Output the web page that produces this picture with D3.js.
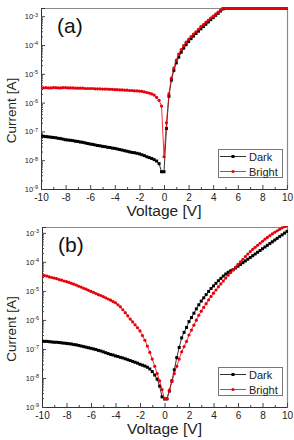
<!DOCTYPE html>
<html>
<head>
<meta charset="utf-8">
<script src="https://cdn.jsdelivr.net/npm/d3@7"></script>
<style>
body { margin: 0; background: #fff; }
svg { display: block; font-family: Arial, "Liberation Sans", sans-serif; }
</style>
</head>
<body>
<svg width="294" height="440"></svg>
<script>
// voltage sweep, -10 V .. 10 V
const voltage = [
  -10, -9.8, -9.6, -9.4, -9.2, -9, -8.8, -8.6, -8.4, -8.2,
  -8, -7.8, -7.6, -7.4, -7.2, -7, -6.8, -6.6, -6.4, -6.2,
  -6, -5.8, -5.6, -5.4, -5.2, -5, -4.8, -4.6, -4.4, -4.2,
  -4, -3.8, -3.6, -3.4, -3.2, -3, -2.8, -2.6, -2.4, -2.2,
  -2, -1.8, -1.6, -1.4, -1.2, -1, -0.8, -0.6, -0.4, -0.2,
  0, 0.2, 0.4, 0.6, 0.8, 1, 1.2, 1.4, 1.6, 1.8,
  2, 2.2, 2.4, 2.6, 2.8, 3, 3.2, 3.4, 3.6, 3.8,
  4, 4.2, 4.4, 4.6, 4.8, 5, 5.2, 5.4, 5.6, 5.8,
  6, 6.2, 6.4, 6.6, 6.8, 7, 7.2, 7.4, 7.6, 7.8,
  8, 8.2, 8.4, 8.6, 8.8, 9, 9.2, 9.4, 9.6, 9.8,
  10
]

// log10(current [A])
const darkA = [
  -7.16, -7.17, -7.18, -7.19, -7.20, -7.21, -7.22, -7.24, -7.25, -7.27,
  -7.29, -7.30, -7.31, -7.32, -7.34, -7.35, -7.37, -7.38, -7.40, -7.42,
  -7.44, -7.45, -7.47, -7.49, -7.50, -7.52, -7.53, -7.55, -7.56, -7.58,
  -7.59, -7.61, -7.63, -7.65, -7.67, -7.69, -7.71, -7.73, -7.74, -7.76,
  -7.78, -7.81, -7.84, -7.88, -7.91, -7.94, -7.98, -8.03, -8.12, -8.40,
  -8.40, -6.90, -5.78, -5.22, -4.88, -4.62, -4.42, -4.25, -4.11, -3.99,
  -3.88, -3.78, -3.69, -3.60, -3.52, -3.44, -3.36, -3.28, -3.20, -3.12,
  -3.05, -2.97, -2.90, -2.82, -2.75, -2.72, -2.72, -2.72, -2.72, -2.72,
  -2.72, -2.72, -2.72, -2.72, -2.72, -2.72, -2.72, -2.72, -2.72, -2.72,
  -2.72, -2.72, -2.72, -2.72, -2.72, -2.72, -2.72, -2.72, -2.72, -2.72,
  -2.72
]
const brightA = [
  -5.49, -5.49, -5.48, -5.49, -5.49, -5.48, -5.48, -5.49, -5.49, -5.48,
  -5.48, -5.49, -5.49, -5.49, -5.50, -5.50, -5.50, -5.50, -5.51, -5.51,
  -5.51, -5.51, -5.52, -5.52, -5.52, -5.53, -5.53, -5.53, -5.54, -5.54,
  -5.55, -5.55, -5.56, -5.56, -5.57, -5.57, -5.58, -5.58, -5.59, -5.59,
  -5.60, -5.61, -5.63, -5.65, -5.67, -5.70, -5.74, -5.82, -5.92, -6.12,
  -7.88, -6.70, -5.70, -5.15, -4.80, -4.52, -4.32, -4.16, -4.02, -3.90,
  -3.80, -3.71, -3.62, -3.54, -3.46, -3.36, -3.29, -3.21, -3.14, -3.07,
  -3.00, -2.93, -2.86, -2.79, -2.73, -2.72, -2.72, -2.72, -2.72, -2.72,
  -2.72, -2.72, -2.72, -2.72, -2.72, -2.72, -2.72, -2.72, -2.72, -2.72,
  -2.72, -2.72, -2.72, -2.72, -2.72, -2.72, -2.72, -2.72, -2.72, -2.72,
  -2.72
]
const darkB = [
  -6.73, -6.74, -6.74, -6.75, -6.76, -6.77, -6.77, -6.78, -6.79, -6.80,
  -6.81, -6.82, -6.83, -6.85, -6.86, -6.88, -6.90, -6.92, -6.94, -6.96,
  -6.98, -7.00, -7.02, -7.05, -7.07, -7.10, -7.13, -7.16, -7.19, -7.21,
  -7.24, -7.26, -7.29, -7.31, -7.34, -7.37, -7.40, -7.43, -7.46, -7.49,
  -7.53, -7.56, -7.59, -7.63, -7.69, -7.78, -7.90, -8.04, -8.28, -8.65,
  -8.72, -8.72, -8.45, -8.10, -7.72, -7.30, -6.95, -6.62, -6.43, -6.26,
  -6.06, -5.92, -5.77, -5.62, -5.48, -5.35, -5.24, -5.13, -5.02, -4.92,
  -4.83, -4.74, -4.65, -4.57, -4.49, -4.42, -4.36, -4.31, -4.27, -4.21,
  -4.15, -4.09, -4.03, -3.97, -3.91, -3.85, -3.79, -3.73, -3.67, -3.61,
  -3.55, -3.49, -3.43, -3.37, -3.31, -3.25, -3.19, -3.13, -3.07, -3.01,
  -2.95
]
const brightB = [
  -4.45, -4.47, -4.49, -4.52, -4.54, -4.56, -4.58, -4.61, -4.63, -4.66,
  -4.68, -4.71, -4.74, -4.77, -4.80, -4.84, -4.87, -4.91, -4.94, -4.98,
  -5.02, -5.05, -5.09, -5.13, -5.16, -5.20, -5.24, -5.28, -5.32, -5.37,
  -5.41, -5.48, -5.55, -5.65, -5.75, -5.86, -5.97, -6.07, -6.17, -6.27,
  -6.38, -6.54, -6.70, -6.90, -7.12, -7.35, -7.60, -7.85, -8.10, -8.40,
  -8.72, -8.72, -8.42, -8.12, -7.85, -7.60, -7.35, -7.10, -6.92, -6.74,
  -6.52, -6.35, -6.18, -6.01, -5.84, -5.70, -5.57, -5.44, -5.31, -5.19,
  -5.08, -4.97, -4.86, -4.76, -4.66, -4.56, -4.46, -4.37, -4.28, -4.18,
  -4.09, -4.00, -3.91, -3.82, -3.73, -3.65, -3.57, -3.50, -3.43, -3.36,
  -3.29, -3.22, -3.16, -3.10, -3.04, -2.98, -2.93, -2.88, -2.83, -2.79,
  -2.75
]

const seriesNames = ['Dark', 'Bright']
const seriesColors = ['#000', '#e8000b']
const xTicks = [-10, -8, -6, -4, -2, 0, 2, 4, 6, 8, 10]
const xMinor = [-9, -7, -5, -3, -1, 1, 3, 5, 7, 9]
const decades = [-9, -8, -7, -6, -5, -4, -3]

let svg = d3.select('svg')

function panel(cfg) {
    let x = d3.scaleLinear().domain([-10, 10]).range([cfg.left, cfg.right])
    let y = d3.scaleLog().domain([1e-9, Math.pow(10, cfg.yTop)]).range([cfg.bottom, cfg.top])

    let g = svg.append('g')

    // top / right frame lines
    g.append('path')
        .attr('d', `M${cfg.left},${cfg.top + 0.5}H${cfg.right + 0.5}V${cfg.bottom}`)
        .attr('fill', 'none').attr('stroke', '#8a8a8a').attr('stroke-width', 1.2)

    // x axis, ticks pointing in
    let gx = g.append('g').attr('transform', `translate(0,${cfg.bottom})`)
        .call(d3.axisBottom(x).tickValues(xTicks).tickSize(-4).tickPadding(5).tickFormat(d => String(d)))
    g.append('g').attr('transform', `translate(0,${cfg.bottom})`)
        .call(d3.axisBottom(x).tickValues(xMinor).tickSize(-2).tickFormat(''))
        .select('.domain').remove()
    gx.selectAll('text').attr('font-size', '10px').attr('fill', '#222')

    // y axis with decades and minor ticks
    let minor = []
    decades.forEach(e => { if (e < -3) for (let k = 2; k < 10; k++) minor.push(k * Math.pow(10, e)) })
    let gy = g.append('g').attr('transform', `translate(${cfg.left},0)`)
        .call(d3.axisLeft(y).tickValues(decades.map(e => Math.pow(10, e))).tickSize(-4).tickPadding(3))
    g.append('g').attr('transform', `translate(${cfg.left},0)`)
        .call(d3.axisLeft(y).tickValues(minor).tickSize(-2).tickFormat(''))
        .select('.domain').remove()
    gy.selectAll('.tick text').each(function (d) {
        let t = d3.select(this).text(null).attr('font-size', '7.5px').attr('fill', '#222')
        t.append('tspan').text('10')
        t.append('tspan').attr('dy', '-0.45em').attr('font-size', '5.5px').text(String(Math.round(Math.log10(d))))
    })
    svg.selectAll('.domain').attr('stroke', '#333')
    svg.selectAll('.tick line').attr('stroke', '#444')

    // data, clipped to the frame
    let clipId = 'clip' + cfg.label
    g.append('clipPath').attr('id', clipId).append('rect')
        .attr('x', cfg.left).attr('y', cfg.top - 1)
        .attr('width', cfg.right - cfg.left + 1).attr('height', cfg.bottom - cfg.top + 1)
    let plot = g.append('g').attr('clip-path', `url(#${clipId})`)

    let data = [cfg.dark, cfg.bright]
    data.forEach((vals, si) => {
        let pts = voltage.map((v, i) => [v, Math.pow(10, vals[i])])
        plot.append('path').datum(pts)
            .attr('fill', 'none').attr('stroke', seriesColors[si]).attr('stroke-width', 0.8)
            .attr('d', d3.line().x(p => x(p[0])).y(p => y(p[1])))
        if (si === 0) {
            plot.selectAll(null).data(pts).enter().append('rect')
                .attr('x', p => x(p[0]) - 1.5).attr('y', p => y(p[1]) - 1.5)
                .attr('width', 3).attr('height', 3).attr('fill', '#000')
        } else {
            plot.selectAll(null).data(pts).enter().append('circle')
                .attr('cx', p => x(p[0])).attr('cy', p => y(p[1]))
                .attr('r', 1.6).attr('fill', seriesColors[1])
        }
    })

    // panel label
    g.append('text').attr('x', cfg.left + 16).attr('y', cfg.top + 25)
        .attr('font-size', '21px').attr('fill', '#111').text('(' + cfg.label + ')')

    // axis titles
    g.append('text').attr('x', (cfg.left + cfg.right) / 2).attr('y', cfg.bottom + 27)
        .attr('text-anchor', 'middle').attr('font-size', '15.5px').attr('fill', '#222').text('Voltage [V]')
    g.append('text').attr('transform', `translate(16,${(cfg.top + cfg.bottom) / 2 + 12}) rotate(-90)`)
        .attr('text-anchor', 'middle').attr('font-size', '13.5px').attr('fill', '#222').text('Current [A]')

    // legend
    let lx = cfg.right - 69, ly = cfg.bottom - 40
    let lg = g.append('g').attr('transform', `translate(${lx},${ly})`)
    lg.append('rect').attr('x', 0.5).attr('y', 0.5).attr('width', 64).attr('height', 28)
        .attr('fill', '#fff').attr('stroke', '#777')
    seriesNames.forEach((name, i) => {
        let cy = 7.5 + i * 15
        lg.append('line').attr('x1', 2).attr('x2', 28).attr('y1', cy).attr('y2', cy)
            .attr('stroke', seriesColors[i]).attr('stroke-width', 0.8)
        if (i === 0) lg.append('rect').attr('x', 13.5).attr('y', cy - 1.5).attr('width', 3).attr('height', 3).attr('fill', '#000')
        else lg.append('circle').attr('cx', 15).attr('cy', cy).attr('r', 1.6).attr('fill', seriesColors[1])
        lg.append('text').attr('x', 31).attr('y', cy + 4).attr('font-size', '11px').attr('fill', '#222').text(name)
    })
}

panel({ label: 'a', left: 41, right: 287, top: 8, bottom: 189, yTop: -2.715, dark: darkA, bright: brightA })
panel({ label: 'b', left: 42, right: 287, top: 227, bottom: 407, yTop: -2.8, dark: darkB, bright: brightB })
</script>
</body>
</html>
